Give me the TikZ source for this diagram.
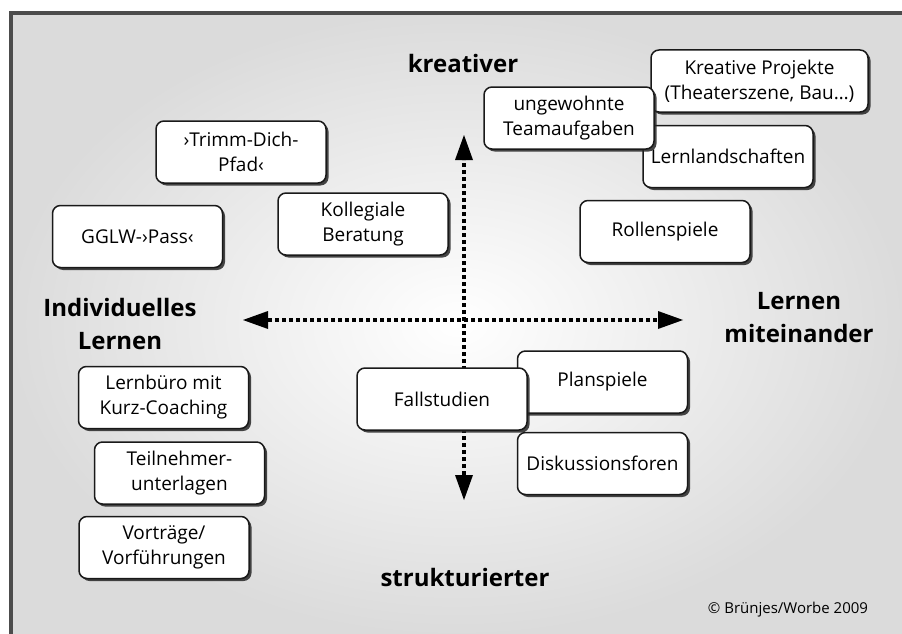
\documentclass[tikz,border=0pt]{standalone}
\usepackage{fontspec}
\setmainfont{Open Sans}
\usetikzlibrary{arrows.meta,shadows}

\begin{document}
\begin{tikzpicture}[x=1pt,y=-1pt,
  feld/.style={draw=black!90, line width=1.5pt, fill=white, rounded corners=8pt, minimum width=170pt, minimum height=62pt, align=center, inner sep=2pt, font=\fontsize{19}{25}\selectfont, drop shadow={shadow xshift=2.5pt, shadow yshift=-2.5pt, fill=black!85, opacity=.85}},
  achse/.style={line width=4.5pt, dash pattern=on 4pt off 3pt, {Triangle[length=25pt,width=18pt,line width=0pt]}-{Triangle[length=25pt,width=18pt,line width=0pt]}},
  titel/.style={align=center, font=\fontsize{24}{33}\selectfont\bfseries}]
  \useasboundingbox (0,0) rectangle (902,634);
  \shade[inner color=white, outer color=black!14] (11,13) rectangle (902,634);
  \draw[black!70, line width=3.5pt] (11,640) -- (11,13) -- (910,13);

  \coordinate (links) at (243,320);
  \coordinate (rechts) at (683,320);
  \coordinate (oben) at (464,135);
  \coordinate (unten) at (464,500);
  \draw[achse] (links) -- (rechts);
  \draw[achse] (unten) -- (oben);

  \node[titel] (kreativ) at (463,63) {kreativer};
  \node[titel] (struktur) at (465,577) {strukturierter};
  \node[titel] (indiv) at (120,324) {Individuelles\\Lernen};
  \node[titel] (mit) at (799,318) {Lernen\\miteinander};

  \node[feld, minimum width=217pt] (projekte) at (759.5,81) {Kreative Projekte\\(Theaterszene, Bau…)};
  \node[feld] (landschaft) at (728,156.5) {Lernlandschaften};
  \node[feld] (team) at (569,118) {ungewohnte\\Teamaufgaben};
  \node[feld] (rolle) at (665,231.5) {Rollenspiele};
  \node[feld] (trimm) at (241,152) {›Trimm-Dich-\\Pfad‹};
  \node[feld] (gglw) at (137.5,236.5) {GGLW-›Pass‹};
  \node[feld] (koll) at (363,224) {Kollegiale\\Beratung};
  \node[feld] (plan) at (602.5,382) {Planspiele};
  \node[feld] (fall) at (442,399) {Fallstudien};
  \node[feld] (disk) at (602.5,463.5) {Diskussionsforen};
  \node[feld] (buero) at (163.5,397.5) {Lernbüro mit\\Kurz-Coaching};
  \node[feld] (teil) at (179.5,473) {Teilnehmer-\\unterlagen};
  \node[feld] (vortrag) at (164,547.5) {Vorträge/\\Vorführungen};

  \node[font=\fontsize{15}{18}\selectfont] (copy) at (788,610) {© Brünjes/Worbe 2009};
\end{tikzpicture}
\end{document}
